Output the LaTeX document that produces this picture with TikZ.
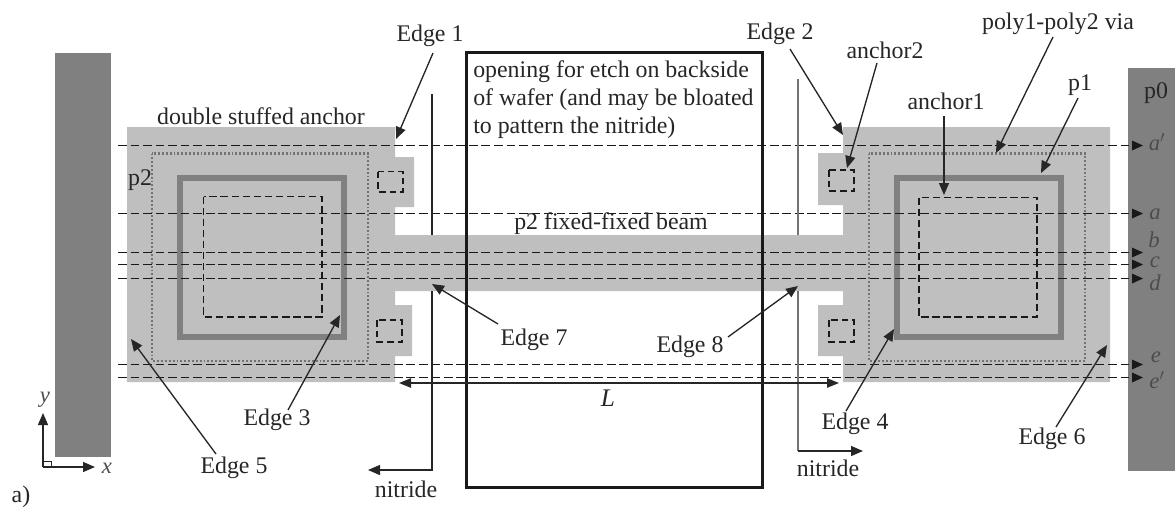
\documentclass[tikz,border=0pt]{standalone}
\usepackage{fontspec}
\setmainfont{Liberation Serif}
\usetikzlibrary{arrows.meta}
\definecolor{lightg}{gray}{0.75}
\definecolor{darkg}{gray}{0.5}
\tikzset{
  lab/.style={font=\fontsize{17.9pt}{20pt}\selectfont,inner sep=0pt,text=black!85},
  mathlab/.style={inner sep=0pt,font=\fontsize{17pt}{18pt}\selectfont\itshape,text=black!70},
  arr/.style={line width=1pt,-{Triangle[length=9pt,width=7.5pt]},black!85},
  arrtwo/.style={line width=1pt,{Triangle[length=9pt,width=7pt]}-{Triangle[length=9pt,width=7pt]},black!85},
  cut/.style={line width=1pt,dash pattern=on 6.6pt off 2.8pt,black!90},
  viaouter/.style={line width=1.9pt,dash pattern=on 1.4pt off 1.5pt,black!55},
  inner/.style={line width=0.95pt,dash pattern=on 5.5pt off 2.8pt,black!90},
  small/.style={line width=0.85pt,dash pattern=on 5pt off 3pt,black!90},
  pone/.style={line width=4.5pt,darkg},
  geom/.style={fill=lightg,draw=none},
  bar/.style={fill=darkg,draw=none},
}
\begin{document}
\begin{tikzpicture}[x=0.75pt,y=-0.75pt]
\useasboundingbox (0,0) rectangle (1175,508);
% bars
\fill[bar] (55,53) rectangle (110.5,457);
\fill[bar] (1128,68) rectangle (1175,471);
% structure
\fill[geom] (127,127) -- (395,127) -- (395,157) -- (414,157) -- (414,207) -- (395,207) -- (395,235)
  -- (843,235) -- (843,205) -- (818,205) -- (818,153) -- (843,153) -- (843,127) -- (1110,127) -- (1110,382)
  -- (843,382) -- (843,356) -- (818,356) -- (818,305) -- (843,305) -- (843,291) -- (395,291) -- (395,305)
  -- (412,305) -- (412,356) -- (395,356) -- (395,382) -- (127,382) -- cycle;
% p1 squares
\draw[pone] (180,178) rectangle (344,337);
\draw[pone] (897,178) rectangle (1061,337);
% via dotted
\draw[viaouter] (152,153.5) rectangle (368,361);
\draw[viaouter] (869,153.5) rectangle (1085,361);
% anchors
\draw[inner] (203.5,196.5) rectangle (322,317);
\draw[inner] (919,197.5) rectangle (1037,317);
\draw[small] (378,171.5) rectangle (403,192);
\draw[small] (377,320) rectangle (402,342);
\draw[small] (829,170) rectangle (854,191);
\draw[small] (829,320) rectangle (854,342);
% cut lines
\foreach \n/\y in {A/145.5,B/213.5,C/252.5,D/264.5,E/278.5,F/364.5,G/377.5}{
  \coordinate (cs\n) at (118,\y);
  \coordinate (ce\n) at (1143,\y);
  \draw[cut] (cs\n) -- (1132,\y);
  \fill[black!90] (ce\n) -- ++(-11,-5) -- ++(0,10) -- cycle;
}
% opening
\node[draw=black!90,line width=1.9pt,minimum width=222pt,minimum height=326.25pt,inner sep=0pt,anchor=north west] (open) at (465,51) {};
\node[lab,align=left,anchor=north west,font=\fontsize{17.9pt}{21pt}\selectfont] (opentxt) at (473,60) {opening for etch on backside\\of wafer (and may be bloated\\to pattern the nitride)};
% nitride lines
\coordinate (n1a) at (432,94); \coordinate (n1b) at (432,235);
\coordinate (n1c) at (432,291); \coordinate (n1d) at (432,470); \coordinate (n1e) at (368,470);
\draw[line width=1pt,black!85] (n1a) -- (n1b);
\draw[arr] (n1c) -- (n1d) -- (n1e);
\coordinate (n2a) at (798,79); \coordinate (n2b) at (798,235);
\coordinate (n2c) at (798,291); \coordinate (n2d) at (798,451); \coordinate (n2e) at (863,451);
\draw[line width=1pt,black!55] (n2a) -- (n2b);
\draw[line width=1pt,black!55] (n2c) -- (n2d);
\draw[arr] (n2d) -- (n2e);
% L
\coordinate (la) at (399,383); \coordinate (lb) at (839,383);
\draw[arrtwo] (la) -- (lb);
\node[lab,font=\fontsize{19pt}{20pt}\selectfont\itshape] (Ltxt) at (608,398) {L};
% texts
\node[lab] (e1) at (430,36) {Edge 1};
\node[lab] (e2) at (780,34) {Edge 2};
\node[lab] (e3) at (277,420) {Edge 3};
\node[lab] (e4) at (855,424) {Edge 4};
\node[lab] (e5) at (234,468) {Edge 5};
\node[lab] (e6) at (1052,439) {Edge 6};
\node[lab] (e7) at (534,340) {Edge 7};
\node[lab] (e8) at (690,347) {Edge 8};
\node[lab] (an2) at (885,50) {anchor2};
\node[lab] (an1) at (946,101) {anchor1};
\node[lab] (via) at (1058,24) {poly1-poly2 via};
\node[lab] (pone) at (1080,85) {p1};
\node[lab] (pzero) at (1156,93) {p0};
\node[lab] (ptwo) at (140,180) {p2};
\node[lab] (dsa) at (261,116) {double stuffed anchor};
\node[lab] (beam) at (611,224) {p2 fixed-fixed beam};
\node[lab] (nit1) at (406,489) {nitride};
\node[lab] (nit2) at (828,468) {nitride};
\node[lab] (alab) at (21,497) {a)};
% cut labels
\node[mathlab] (la1) at (1157,142) {a$'$};
\node[mathlab] (la2) at (1155,214) {a};
\node[mathlab] (lb1) at (1154,239.5) {b};
\node[mathlab] (lc1) at (1155,262) {c};
\node[mathlab] (ld1) at (1155,283) {d};
\node[mathlab] (le1) at (1156,357) {e};
\node[mathlab] (le2) at (1157,380) {e$'$};
% leader arrows
\coordinate (t1) at (396,139); \draw[arr] (433,53) -- (t1);
\coordinate (t2) at (843,135); \draw[arr] (790,49) -- (t2);
\coordinate (t3) at (340,315); \draw[arr] (288,410) -- (t3);
\coordinate (t4) at (894,329); \draw[arr] (846,411) -- (t4);
\coordinate (t5) at (131,339); \draw[arr] (216,454) -- (t5);
\coordinate (t6) at (1107,345); \draw[arr] (1056,427) -- (t6);
\coordinate (t7) at (432,284); \draw[arr] (498,324) -- (t7);
\coordinate (t8) at (798,286); \draw[arr] (728,337) -- (t8);
\coordinate (tan2) at (847,168); \draw[arr] (877,63) -- (tan2);
\coordinate (tan1) at (944,195); \draw[arr] (944,116) -- (tan1);
\coordinate (tvia) at (996,153); \draw[arr] (1053,37) -- (tvia);
\coordinate (tp1) at (1041,173); \draw[arr] (1078,98) -- (tp1);
% axes
\coordinate (o) at (43,467); \coordinate (oy) at (43,413); \coordinate (ox) at (95,467);
\draw[arr] (o) -- (oy);
\draw[arr] (o) -- (ox);
\draw[line width=0.7pt,black!85] (43,461) -| (51,467);
\node[mathlab] (ylab) at (45,400) {y};
\node[mathlab] (xlab) at (107,468) {x};
\end{tikzpicture}
\end{document}
